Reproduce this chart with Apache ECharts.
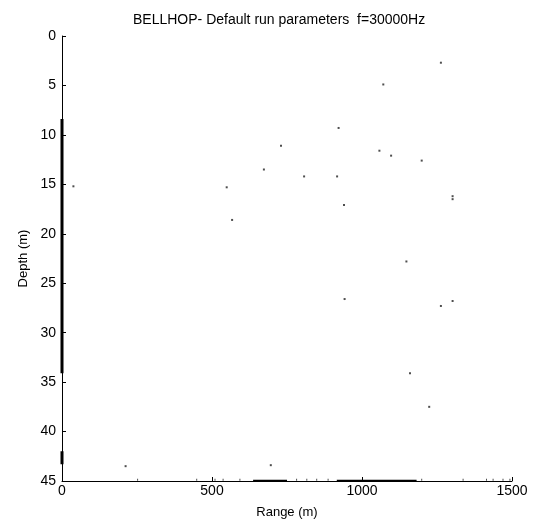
<!DOCTYPE html>
<html>
<head>
<meta charset="utf-8">
<script src="https://cdn.jsdelivr.net/npm/echarts@6/dist/echarts.min.js"></script>
<style>html,body{margin:0;padding:0;background:#fff}#c{width:533px;height:526px}</style>
</head>
<body>
<div id="c"></div>
<script>
// Ray-arrival points: range (m), depth (m)
var rangeVals = [1263, 1071, 922, 730, 1058, 1097, 1199, 673, 807, 917, 38, 549, 1302, 1302, 940, 567, 1148, 942, 1302, 1263, 1160, 1224, 212, 696];
var depthVals = [2.7, 4.9, 9.3, 11.1, 11.6, 12.1, 12.6, 13.5, 14.2, 14.2, 15.2, 15.3, 16.2, 16.5, 17.1, 18.6, 22.8, 26.6, 26.8, 27.3, 34.1, 37.5, 43.5, 43.4];
// Points grazing the bottom (depth ~45)
var bottomRanges = [252, 449, 510, 537, 593, 782, 816, 849, 887, 1199, 1337, 1415, 1437, 1470, 1493];
var bottomDepth = 44.88;
// Dense ray bands along the edges
var edgeDepthBands = [[8.4, 34.1], [42.0, 43.3]];
var bottomRangeBands = [[637, 750], [916, 1182]];
// Axis ticks
var xTicks = [0, 500, 1000, 1500];
var yTicks = [0, 5, 10, 15, 20, 25, 30, 35, 40, 45];
var titleText = 'BELLHOP- Default run parameters  f=30000Hz';

var pts = rangeVals.map(function (r, i) { return [r, depthVals[i]]; });
var bpts = bottomRanges.map(function (r) { return [r, bottomDepth]; });
var series = [
  { type: 'scatter', data: pts, symbol: 'rect', symbolSize: 2, itemStyle: { color: '#222' }, silent: true },
  { type: 'scatter', data: bpts, symbol: 'rect', symbolSize: [1, 2], itemStyle: { color: '#222' }, silent: true }
];
edgeDepthBands.forEach(function (b) {
  series.push({ type: 'line', data: [[0, b[0]], [0, b[1]]], symbol: 'none', lineStyle: { color: '#000', width: 3 }, silent: true });
});
bottomRangeBands.forEach(function (b) {
  series.push({ type: 'line', data: [[b[0], 44.95], [b[1], 44.95]], symbol: 'none', lineStyle: { color: '#000', width: 1.5 }, silent: true });
});

var font = 'Liberation Sans, Arial, sans-serif';
var chart = echarts.init(document.getElementById('c'), null, { renderer: 'canvas' });
chart.setOption({
  animation: false,
  backgroundColor: '#fff',
  title: {
    text: titleText, left: 128, top: 8,
    textStyle: { fontFamily: font, fontSize: 14, fontWeight: 'normal', color: '#000' }
  },
  grid: { left: 62, right: 21, top: 36, bottom: 45, containLabel: false },
  xAxis: {
    type: 'value', min: xTicks[0], max: xTicks[xTicks.length - 1], interval: xTicks[1] - xTicks[0],
    name: 'Range (m)', nameLocation: 'middle', nameGap: 25,
    nameTextStyle: { fontFamily: font, fontSize: 13, color: '#000' },
    axisLine: { onZero: false, lineStyle: { color: '#000', width: 1 } },
    axisTick: { inside: true, length: 4, lineStyle: { color: '#000' } },
    axisLabel: { fontFamily: font, fontSize: 14, color: '#000', margin: 3, formatter: function (v) { return String(v); } },
    splitLine: { show: false }
  },
  yAxis: {
    type: 'value', inverse: true, min: yTicks[0], max: yTicks[yTicks.length - 1], interval: yTicks[1] - yTicks[0],
    name: 'Depth (m)', nameLocation: 'middle', nameGap: 32,
    nameTextStyle: { fontFamily: font, fontSize: 13, color: '#000' },
    axisLine: { onZero: false, lineStyle: { color: '#000', width: 1 } },
    axisTick: { inside: true, length: 4, lineStyle: { color: '#000' } },
    axisLabel: { fontFamily: font, fontSize: 14, color: '#000', margin: 6, formatter: function (v) { return String(v); } },
    splitLine: { show: false }
  },
  series: series
});
</script>
</body>
</html>
